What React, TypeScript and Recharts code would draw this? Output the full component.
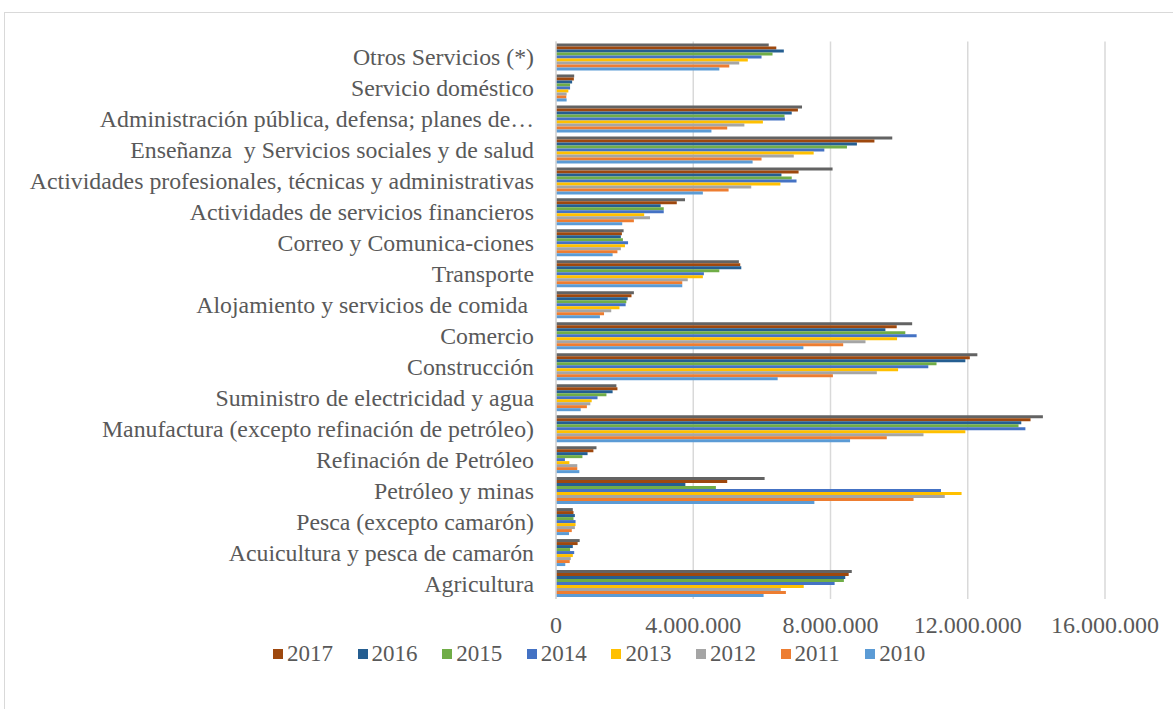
import React from 'react';
import { BarChart, Bar, XAxis, YAxis, CartesianGrid, Legend } from 'recharts';

const categories = [
  'Otros Servicios (*)',
  'Servicio doméstico',
  'Administración pública, defensa; planes de…',
  'Enseñanza\u00A0 y Servicios sociales y de salud',
  'Actividades profesionales, técnicas y administrativas',
  'Actividades de servicios financieros',
  'Correo y Comunica-ciones',
  'Transporte',
  'Alojamiento y servicios de comida\u00A0',
  'Comercio',
  'Construcción',
  'Suministro de electricidad y agua',
  'Manufactura (excepto refinación de petróleo)',
  'Refinación de Petróleo',
  'Petróleo y minas',
  'Pesca (excepto camarón)',
  'Acuicultura y pesca de camarón',
  'Agricultura',
];

const v2018 = [6200000, 530000, 7170000, 9800000, 8060000, 3760000, 1970000, 5330000, 2270000, 10380000, 12280000, 1760000, 14190000, 1180000, 6080000, 490000, 690000, 8620000];
const v2017 = [6420000, 520000, 7050000, 9280000, 7070000, 3520000, 1920000, 5370000, 2200000, 9930000, 12060000, 1790000, 13830000, 1090000, 4990000, 510000, 630000, 8530000];
const v2016 = [6640000, 470000, 6870000, 8770000, 6570000, 3050000, 1890000, 5400000, 2090000, 9600000, 11930000, 1650000, 13560000, 920000, 3770000, 550000, 490000, 8430000];
const v2015 = [6310000, 410000, 6660000, 8480000, 6870000, 3140000, 1950000, 4760000, 2050000, 10180000, 11090000, 1470000, 13480000, 770000, 4660000, 510000, 410000, 8390000];
const v2014 = [5990000, 410000, 6670000, 7820000, 7010000, 3140000, 2100000, 4310000, 2030000, 10510000, 10850000, 1210000, 13680000, 260000, 11220000, 570000, 530000, 8120000];
const v2013 = [5590000, 360000, 6030000, 7510000, 6540000, 2570000, 2010000, 4280000, 1850000, 9940000, 9970000, 1040000, 11930000, 390000, 11820000, 570000, 490000, 7220000];
const v2012 = [5340000, 310000, 5490000, 6930000, 5690000, 2740000, 1890000, 3840000, 1610000, 9020000, 9350000, 1000000, 10710000, 620000, 11330000, 550000, 430000, 6550000];
const v2011 = [5050000, 300000, 4990000, 5990000, 5030000, 2270000, 1790000, 3680000, 1400000, 8370000, 8070000, 900000, 9640000, 620000, 10420000, 460000, 400000, 6700000];
const v2010 = [4760000, 310000, 4530000, 5730000, 4280000, 1930000, 1650000, 3680000, 1280000, 7210000, 6460000, 720000, 8570000, 680000, 7530000, 380000, 270000, 6050000];

const xTicks = [0, 4000000, 8000000, 12000000, 16000000];

const series = [
  { key: 'y2018', name: '2018', color: '#636363', values: v2018, inLegend: false },
  { key: 'y2017', name: '2017', color: '#9E480E', values: v2017, inLegend: true },
  { key: 'y2016', name: '2016', color: '#255E91', values: v2016, inLegend: true },
  { key: 'y2015', name: '2015', color: '#70AD47', values: v2015, inLegend: true },
  { key: 'y2014', name: '2014', color: '#4472C4', values: v2014, inLegend: true },
  { key: 'y2013', name: '2013', color: '#FFC000', values: v2013, inLegend: true },
  { key: 'y2012', name: '2012', color: '#A5A5A5', values: v2012, inLegend: true },
  { key: 'y2011', name: '2011', color: '#ED7D31', values: v2011, inLegend: true },
  { key: 'y2010', name: '2010', color: '#5B9BD5', values: v2010, inLegend: true },
];

const data = categories.map((name, i) => {
  const row: Record<string, string | number> = { name };
  series.forEach((s) => {
    row[s.key] = s.values[i];
  });
  return row;
});

const fmt = (v: number) => String(v).replace(/\B(?=(\d{3})+(?!\d))/g, '.');

const FONT = '"Liberation Serif", "Times New Roman", serif';
const TEXT = '#595959';

const renderLegend = (props: any) => {
  const payload = (props.payload || []).filter((p: any) => p.type !== 'none');
  const order = series.filter((s) => s.inLegend).map((s) => s.key);
  const items = [...payload].sort(
    (a: any, b: any) => order.indexOf(a.dataKey) - order.indexOf(b.dataKey)
  );
  return (
    <div style={{ position: 'relative', width: 1173, height: 30, fontFamily: FONT, fontSize: 23, lineHeight: '26px', color: TEXT }}>
      {items.map((p: any, i: number) => (
        <div
          key={p.dataKey}
          style={{ position: 'absolute', left: 273 + i * 84.6, top: 0, display: 'flex', alignItems: 'center', whiteSpace: 'nowrap' }}
        >
          <span style={{ display: 'inline-block', width: 10, height: 10, background: p.color, marginRight: 4 }} />
          <span>{p.value}</span>
        </div>
      ))}
    </div>
  );
};

export default function App() {
  return (
    <div style={{ position: 'absolute', left: 0, top: 0, width: 1173, height: 709, background: '#fff', overflow: 'hidden' }}>
      <div style={{ position: 'absolute', left: 4, top: 12, width: 1200, height: 720, border: '1px solid #d9d9d9' }} />
      <BarChart
        width={1173}
        height={709}
        data={data}
        layout="vertical"
        margin={{ top: 41.5, right: 68, left: 0, bottom: 35 }}
        barCategoryGap={2}
        barGap={0}
      >
        <CartesianGrid horizontal={false} stroke="#d9d9d9" strokeWidth={1.5} />
        <XAxis
          type="number"
          domain={[0, 16000000]}
          ticks={xTicks}
          tickFormatter={fmt}
          axisLine={false}
          tickLine={false}
          tickSize={0}
          tickMargin={17}
          height={45}
          tick={{ fontFamily: FONT, fontSize: 24, fill: TEXT }}
        />
        <YAxis
          type="category"
          dataKey="name"
          width={556}
          interval={0}
          axisLine={{ stroke: '#d9d9d9', strokeWidth: 1.5 }}
          tickLine={false}
          tickSize={0}
          tickMargin={22}
          tick={{ fontFamily: FONT, fontSize: 23.8, fill: TEXT }}
        />
        <Legend
          verticalAlign="bottom"
          content={renderLegend}
          wrapperStyle={{ left: 0, top: 641, width: 1173 }}
        />
        {series.map((s) => (
          <Bar
            key={s.key}
            dataKey={s.key}
            name={s.name}
            fill={s.color}
            legendType={s.inLegend ? 'square' : 'none'}
            isAnimationActive={false}
          />
        ))}
      </BarChart>
    </div>
  );
}
